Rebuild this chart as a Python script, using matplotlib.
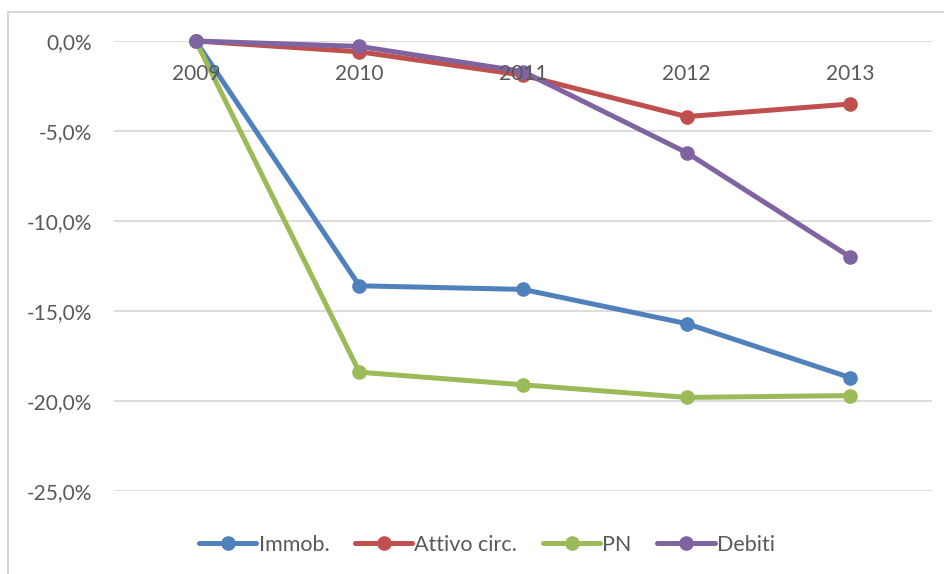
import matplotlib.pyplot as plt
from matplotlib.patches import Rectangle
from matplotlib.ticker import FuncFormatter, MultipleLocator

years = ["2009", "2010", "2011", "2012", "2013"]
immob = [0.0, -13.6, -13.8, -15.7, -18.7]
attivo_circ = [0.0, -0.6, -1.9, -4.2, -3.5]
pn = [0.0, -18.4, -19.1, -19.8, -19.7]
debiti = [0.0, -0.3, -1.7, -6.2, -12.0]

series = [
    ("Immob.", immob, "#4F81BD"),
    ("Attivo circ.", attivo_circ, "#C0504D"),
    ("PN", pn, "#9BBB59"),
    ("Debiti", debiti, "#8064A2"),
]

text_color = "#595959"
plt.rcParams['font.family'] = ['Lato', 'DejaVu Sans']

fig = plt.figure(figsize=(9.45, 5.74), dpi=100)
# outer chart border (cut off at right and bottom like the screenshot)
fig.patches.append(Rectangle((8 / 945, -0.1), 1.0, 1 - 12 / 574 + 0.1,
                             transform=fig.transFigure, fill=False,
                             edgecolor="#d9d9d9", linewidth=1.5))

ax = fig.add_axes([114 / 945, 1 - 491 / 574, (932 - 114) / 945, 450 / 574])
x = list(range(len(years)))

handles = []
for name, vals, color in series:
    h, = ax.plot(x, vals, color=color, linewidth=3.6, marker="o",
                 markersize=9.5, clip_on=False, label=name,
                 solid_capstyle="round", zorder=3)
    handles.append(h)

ax.set_xlim(-0.5, len(years) - 0.5)
ax.set_ylim(-25, 0)
ax.yaxis.set_major_locator(MultipleLocator(5))
ax.yaxis.set_major_formatter(FuncFormatter(lambda v, _: f"{v:.1f}%".replace(".", ",")))
ax.grid(axis="y", color="#d9d9d9", linewidth=1.3)
ax.set_axisbelow(True)

for s in ax.spines.values():
    s.set_visible(False)

# category labels sit just under the 0% line, on top of the lines
ax.set_xticks(x)
ax.set_xticklabels(years)
ax.spines["bottom"].set_position(("data", 0))
ax.xaxis.set_zorder(5)
ax.tick_params(axis="x", length=0, pad=16.5, labelsize=15, labelcolor=text_color)
ax.tick_params(axis="y", length=0, pad=16, labelsize=15, labelcolor=text_color)

leg = fig.legend(handles=handles, loc="center", ncol=4,
                 bbox_to_anchor=(487 / 945, 1 - 545 / 574), frameon=False,
                 fontsize=15.5, handlelength=2.65, handletextpad=0.1,
                 columnspacing=1.2)
for t in leg.get_texts():
    t.set_color(text_color)

fig.savefig("out.png", dpi=100)
